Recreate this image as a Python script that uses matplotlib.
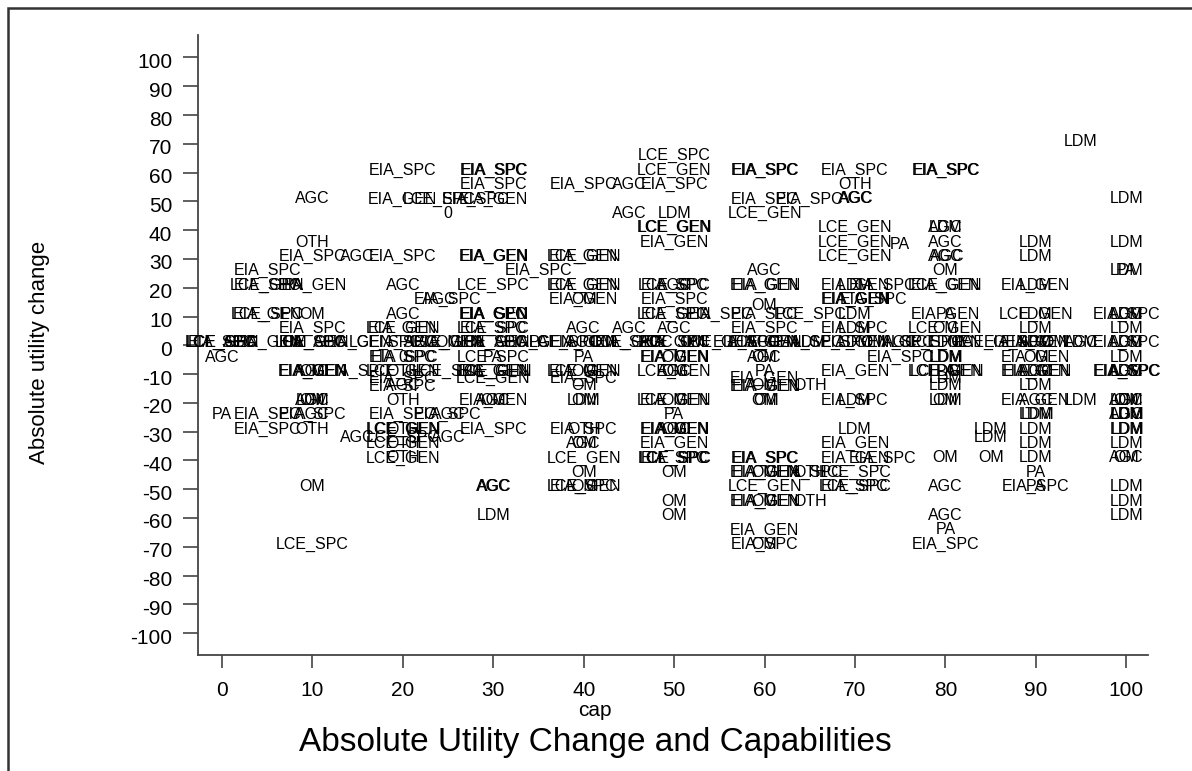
import matplotlib
matplotlib.use("Agg")
import matplotlib.pyplot as plt
from matplotlib.patches import Rectangle
from matplotlib.transforms import ScaledTranslation

# ---- data: (cap, absolute utility change) for each marker label ----
EIA_SPC = [(20,60),(30,60),(30,60),(60,60),(60,60),(70,60),(80,60),(80,60),(30,55),(40,55),(50,55),
           (28,50),(60,50),(65,50),(10,30),(20,30),(5,25),(35,25),(5,20),(73,20),(50,20),(25,15),(50,15),
           (72,15),(30,10),(50,10),(55,10),(60,10),(100,10),(10,5),(30,5),(60,5),(70,5),
           (0,0),(10,0),(20,0),(30,0),(45,0),(58,0),(65,0),(75,0),(88,0),(100,0),
           (20,-5),(20,-5),(75,-5),(15,-10),(100,-10),(100,-10),(20,-12.5),(40,-12.5),(20,-15),(70,-20),
           (5,-25),(10,-25),(20,-25),(25,-25),(5,-30),(30,-30),(40,-30),(50,-40),(60,-40),(60,-40),(73,-40),
           (65,-45),(40,-50),(70,-50),(90,-50),(60,-70),(80,-70)]
EIA_GEN = [(20,50),(30,50),(50,35),(30,30),(30,30),(40,30),(10,20),(40,20),(60,20),(60,20),(70,20),(80,20),
           (90,20),(40,15),(70,15),(70,15),(5,10),(30,10),(30,10),(80,10),(20,5),
           (5,0),(15,0),(25,0),(35,0),(40,0),(50,0),(60,0),(70,0),(90,0),
           (50,-5),(50,-5),(90,-5),(10,-10),(10,-10),(30,-10),(40,-10),(70,-10),(90,-10),(90,-10),
           (60,-12.5),(60,-15),(60,-15),(30,-20),(50,-20),(90,-20),(50,-30),(50,-30),(50,-35),(70,-35),
           (70,-40),(60,-45),(60,-45),(60,-55),(60,-55),(60,-65)]
LCE_SPC = [(50,65),(24,50),(30,20),(50,20),(5,10),(65,10),(30,5),
           (0,0),(18,0),(38,0),(50,0),(68,0),(78,0),
           (30,-5),(25,-10),(20,-33),(50,-40),(50,-40),(70,-45),(70,-50),(10,-70)]
LCE_GEN = [(50,60),(60,45),(50,40),(50,40),(70,40),(70,35),(40,30),(70,30),(5,20),(40,20),(80,20),(50,10),
           (90,10),(20,5),(80,5),
           (0,0),(10,0),(25,0),(30,0),(45,0),(55,0),(60,0),(80,0),(85,0),
           (20,-10),(30,-10),(30,-10),(40,-10),(50,-10),(80,-10),(80,-10),(30,-12.5),(50,-20),(20,-30),
           (20,-30),(20,-35),(20,-40),(40,-40),(40,-50),(60,-50)]
AGC = [(45,55),(10,50),(70,50),(70,50),(45,45),(80,40),(15,30),(80,30),(80,30),(80,35),(60,25),(20,20),
       (50,20),(24,15),(20,10),(100,10),(40,5),(45,5),(50,5),
       (2,0),(12,0),(22,0),(32,0),(40,0),(48,0),(60,0),(75,0),(90,0),(95,0),(100,0),
       (0,-5),(60,-5),(10,-10),(50,-10),(90,-10),(100,-10),(20,-15),(10,-20),(30,-20),(90,-20),(100,-20),
       (10,-25),(25,-25),(100,-25),(50,-30),(15,-33),(25,-33),(40,-35),(100,-40),(30,-50),(30,-50),
       (80,-50),(80,-60)]
LDM = [(95,70),(100,50),(50,45),(80,40),(90,35),(100,35),(90,30),(100,25),(70,20),(90,20),(70,10),(90,10),
       (100,10),(70,5),(90,5),(100,5),
       (65,0),(70,0),(80,0),(90,0),(95,0),(100,0),
       (80,-5),(80,-5),(100,-5),(80,-10),(90,-10),(100,-10),(80,-12.5),(80,-15),(90,-15),(10,-20),(40,-20),
       (70,-20),(80,-20),(95,-20),(100,-20),(90,-25),(90,-25),(100,-25),(100,-25),(70,-30),(85,-30),
       (90,-30),(100,-30),(100,-30),(85,-33),(90,-35),(100,-35),(90,-40),(100,-50),(100,-55),(30,-60),
       (100,-60)]
OM = [(80,25),(10,10),(40,15),(60,13),(80,5),
      (8,0),(25,0),(42,0),(52,0),(72,0),(92,0),
      (50,-5),(60,-5),(90,-5),(10,-10),(40,-10),(50,-10),(40,-15),(60,-15),(10,-20),(30,-20),(40,-20),
      (50,-20),(60,-20),(60,-20),(80,-20),(100,-20),(50,-30),(40,-35),(80,-40),(85,-40),(100,-40),
      (40,-45),(50,-45),(60,-45),(10,-50),(40,-50),(50,-55),(60,-55),(50,-60),(60,-70)]
OTH = [(70,55),(10,35),(20,-10),(65,-15),(20,-20),(10,-30),(20,-30),(40,-30),(20,-35),(20,-40),(65,-45),
       (65,-55)]
PA = [(75,34),(100,25),(8,20),(80,10),(8,0),(28,0),(35,0),(62,0),(82,0),(30,-5),(40,-5),(60,-10),(80,-10),
      (0,-25),(50,-25),(90,-45),(90,-50),(80,-65)]
ZERO = [(25,45),(20,-5)]

series = [("EIA_SPC", EIA_SPC), ("EIA_GEN", EIA_GEN), ("LCE_SPC", LCE_SPC), ("LCE_GEN", LCE_GEN),
          ("AGC", AGC), ("LDM", LDM), ("OM", OM), ("OTH", OTH), ("PA", PA), ("0", ZERO)]

x_ticks = [0, 10, 20, 30, 40, 50, 60, 70, 80, 90, 100]
y_ticks = list(range(-100, 101, 10))

FONT = ["Liberation Sans", "DejaVu Sans"]
W, H = 1192, 771

fig = plt.figure(figsize=(W / 100, H / 100), dpi=100)
ax = fig.add_axes([198 / W, 1 - 655 / H, (1148 - 198) / W, (655 - 35) / H])
ax.set_xlim(-2.65, 102.4)
ax.set_ylim(-107.6, 107.8)

text_off = ScaledTranslation(0, -2 / 100, fig.dpi_scale_trans)
seen = {}
for lab, pts in series:
    for (x, y) in pts:
        key = (lab, x, y)
        k = seen.get(key, 0)
        seen[key] = k + 1
        ax.text(x + 0.15 * k, y, lab, ha="center", va="baseline", fontsize=11.5,
                family=FONT, color="black", clip_on=False,
                transform=ax.transData + text_off)

for s in ["top", "right"]:
    ax.spines[s].set_visible(False)
for s in ["left", "bottom"]:
    ax.spines[s].set_color("#444444")
    ax.spines[s].set_linewidth(1.3)

ax.set_xticks(x_ticks)
ax.set_yticks(y_ticks)
ax.set_xticklabels([str(v) for v in x_ticks], family=FONT, fontsize=15)
ax.set_yticklabels([str(v) for v in y_ticks], family=FONT, fontsize=15)
ax.tick_params(axis="x", direction="out", length=9.5, width=1.2, color="#444444", pad=9)
ax.tick_params(axis="y", direction="out", length=10.5, width=1.2, color="#444444", pad=8)
off = ScaledTranslation(0, -3 / 100, fig.dpi_scale_trans)
for tl in ax.get_yticklabels():
    tl.set_transform(tl.get_transform() + off)

fig.text(40 / W, 1 - 352 / H, "Absolute utility change", rotation=90, ha="center", va="center",
         fontsize=16, family=FONT)
fig.text(595 / W, 1 - 711 / H, "cap", ha="center", va="center", fontsize=15, family=FONT)
fig.text(595 / W, 1 - 742 / H, "Absolute Utility Change and Capabilities", ha="center", va="center",
         fontsize=24, family=FONT)

fig.add_artist(Rectangle((8 / W, -0.1), 1.2, (1 - 8 / H) + 0.1, transform=fig.transFigure,
                         fill=False, lw=1.8, ec="#333333"))

fig.savefig("out.png", dpi=100)
